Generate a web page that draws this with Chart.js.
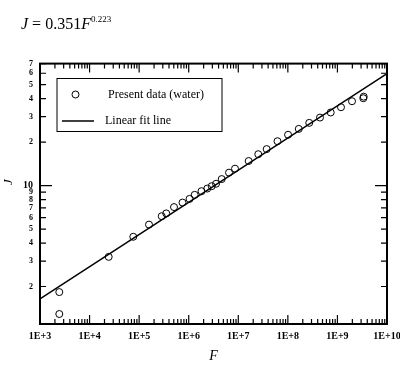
<!DOCTYPE html>
<html>
<head>
<meta charset="utf-8">
<script src="https://cdn.jsdelivr.net/npm/chart.js@4"></script>
<style>
  body { margin: 0; background: #fff; }
  #wrap { position: relative; width: 400px; height: 366px; }
  #formula {
    position: absolute; left: 21px; top: 16px;
    font: 16px/16px "Liberation Serif", serif; color: #000; white-space: nowrap;
  }
  #formula .sup { position: relative; top: -7px; font-size: 9px; }
</style>
</head>
<body>
<div id="wrap">
  <canvas id="chart" width="400" height="366"></canvas>
  <div id="formula"><i>J</i> = 0.351<i>F</i><span class="sup">0.223</span></div>
</div>
<script>
  /* ================================
     Data
  =================================*/
  const xTickValues = [1e3, 1e4, 1e5, 1e6, 1e7, 1e8, 1e9, 1e10];
  const xTickLabels = ['1E+3', '1E+4', '1E+5', '1E+6', '1E+7', '1E+8', '1E+9', '1E+10'];
  const yTickValues = [2, 3, 4, 5, 6, 7, 8, 9, 10, 20, 30, 40, 50, 60, 70];
  const yTickLabels = ['2', '3', '4', '5', '6', '7', '8', '9', '10', '2', '3', '4', '5', '6', '7'];

  // measured points (water)
  const dataF = [2.45e3, 2.45e3, 2.43e4, 7.62e4, 1.58e5, 2.85e5, 3.52e5, 5.05e5, 7.50e5, 1.04e6,
                 1.32e6, 1.81e6, 2.37e6, 2.91e6, 3.56e6, 4.63e6, 6.50e6, 8.59e6, 1.62e7, 2.53e7,
                 3.74e7, 6.18e7, 1.01e8, 1.66e8, 2.70e8, 4.45e8, 7.32e8, 1.18e9, 1.97e9, 3.33e9, 3.39e9];
  const dataJ = [1.83, 1.29, 3.21, 4.42, 5.37, 6.14, 6.42, 7.10, 7.63, 8.09,
                 8.63, 9.15, 9.54, 9.91, 10.3, 11.1, 12.3, 13.1, 14.8, 16.5,
                 17.9, 20.3, 22.5, 24.7, 27.2, 29.6, 32.1, 34.9, 38.4, 40.3, 41.3];

  // fit line end points
  const fitF = [1e3, 1e10];
  const fitJ = [1.64, 59.6];

  const SERIF = '"Liberation Serif", serif';

  /* ================================
     Frame, inward ticks, legend box, J label
  =================================*/
  const framePlugin = {
    id: 'frame',
    afterDraw(chart) {
      const { ctx, chartArea: a, scales: { x, y } } = chart;
      ctx.save();
      ctx.strokeStyle = '#000';

      // ticks
      ctx.lineWidth = 1.2;
      ctx.beginPath();
      for (let d = 3; d <= 10; d++) {
        const px = x.getPixelForValue(Math.pow(10, d));
        ctx.moveTo(px, a.bottom); ctx.lineTo(px, a.bottom - 9);
        ctx.moveTo(px, a.top); ctx.lineTo(px, a.top + 9);
        if (d === 10) continue;
        for (let m = 2; m <= 9; m++) {
          const mx = x.getPixelForValue(m * Math.pow(10, d));
          ctx.moveTo(mx, a.bottom); ctx.lineTo(mx, a.bottom - 5);
          ctx.moveTo(mx, a.top); ctx.lineTo(mx, a.top + 5);
        }
      }
      yTickValues.forEach(v => {
        const py = y.getPixelForValue(v);
        const len = v === 10 ? 12 : 6;
        ctx.moveTo(a.left, py); ctx.lineTo(a.left + len, py);
        ctx.moveTo(a.right, py); ctx.lineTo(a.right - len, py);
      });
      ctx.stroke();

      // frame
      ctx.lineWidth = 2;
      ctx.strokeRect(a.left, a.top, a.right - a.left, a.bottom - a.top);

      // legend
      const ds = chart.data.datasets;
      ctx.lineWidth = 1;
      ctx.strokeRect(57, 78.5, 165, 53);
      ctx.beginPath();
      ctx.arc(75.5, 94.5, 3.5, 0, Math.PI * 2);
      ctx.stroke();
      ctx.lineWidth = 1.5;
      ctx.beginPath();
      ctx.moveTo(62, 121); ctx.lineTo(94, 121);
      ctx.stroke();
      ctx.fillStyle = '#000';
      ctx.font = '12px ' + SERIF;
      ctx.textBaseline = 'middle';
      ctx.textAlign = 'left';
      ctx.fillText(ds[0].label, 108, 95);
      ctx.fillText(ds[1].label, 105, 121);

      // y axis title
      ctx.font = 'italic 13px ' + SERIF;
      ctx.translate(8.5, 182);
      ctx.rotate(-Math.PI / 2);
      ctx.textAlign = 'center';
      ctx.fillText('J', 0, 0);
      ctx.restore();
    }
  };

  /* ================================
     Chart
  =================================*/
  const ctx = document.getElementById('chart').getContext('2d');
  new Chart(ctx, {
    type: 'scatter',
    data: {
      datasets: [{
        label: 'Present data (water)',
        data: dataF.map((f, i) => ({ x: f, y: dataJ[i] })),
        pointRadius: 3.5,
        pointBorderWidth: 1,
        borderColor: '#000',
        backgroundColor: 'rgba(0,0,0,0)'
      }, {
        type: 'line',
        label: 'Linear fit line',
        data: fitF.map((f, i) => ({ x: f, y: fitJ[i] })),
        borderColor: '#000',
        borderWidth: 1.5,
        pointRadius: 0,
        fill: false
      }]
    },
    options: {
      responsive: false,
      animation: false,
      layout: { padding: { top: 63.6, right: 13, left: 0, bottom: 0 } },
      plugins: { legend: { display: false }, tooltip: { enabled: false } },
      scales: {
        x: {
          type: 'logarithmic',
          min: 1e3, max: 1e10,
          grid: { display: false, drawTicks: false },
          border: { display: false },
          afterBuildTicks: s => { s.ticks = xTickValues.map(v => ({ value: v })); },
          afterFit: s => { s.height = 42; s.paddingLeft = 0; s.paddingRight = 0; },
          ticks: {
            autoSkip: false, maxRotation: 0, padding: 6, color: '#000',
            font: { family: SERIF, size: 10, weight: 'bold' },
            callback: (v, i) => xTickLabels[i]
          },
          title: {
            display: true, text: 'F', color: '#000',
            font: { family: SERIF, size: 14, style: 'italic' },
            padding: { top: 0, bottom: 1.6 }
          }
        },
        y: {
          type: 'logarithmic',
          min: 1.1, max: 70,
          grid: { display: false, drawTicks: false },
          border: { display: false },
          afterBuildTicks: s => { s.ticks = yTickValues.map(v => ({ value: v })); },
          afterFit: s => { s.width = 40; s.paddingTop = 0; s.paddingBottom = 0; },
          ticks: {
            autoSkip: false, padding: 7, color: '#000',
            font: c => ({ family: SERIF, size: c.tick && c.tick.value === 10 ? 10 : 8, weight: 'bold' }),
            callback: (v, i) => yTickLabels[i]
          }
        }
      }
    },
    plugins: [framePlugin]
  });
</script>
</body>
</html>
